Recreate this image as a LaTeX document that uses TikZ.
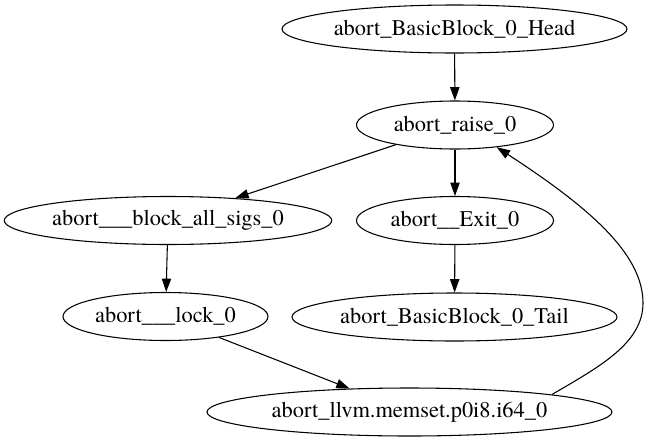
\documentclass[tikz,border=0pt]{standalone}
\usepackage{fontspec}
\setmainfont{texgyretermes}[Extension=.otf,UprightFont=*-regular,BoldFont=*-bold,ItalicFont=*-italic,BoldItalicFont=*-bolditalic]
\usetikzlibrary{shapes.geometric,arrows.meta}
\begin{document}
\begin{tikzpicture}[x=0.75pt,y=-0.75pt,
  gnode/.style={draw,ellipse,inner sep=0pt,minimum height=36pt,line width=0.8pt,
    font=\fontsize{16.8}{20}\selectfont},
  edge/.style={draw,line width=0.8pt,-{Triangle[length=10pt,width=7pt]}}]
\useasboundingbox (0,0) rectangle (649,443);
\node[gnode,minimum width=258.75pt] (head) at (454.5,29) {abort\_BasicBlock\_0\_Head};
\node[gnode,minimum width=147.75pt] (raise) at (455,125) {abort\_raise\_0};
\node[gnode,minimum width=244.5pt] (block) at (168,220.5) {abort\_\_\_block\_all\_sigs\_0};
\node[gnode,minimum width=147.75pt] (exit) at (455,220.5) {abort\_\_Exit\_0};
\node[gnode,minimum width=153.75pt] (lock) at (165.5,316.5) {abort\_\_\_lock\_0};
\node[gnode,minimum width=243.75pt] (tail) at (454.5,317) {abort\_BasicBlock\_0\_Tail};
\node[gnode,minimum width=303.75pt] (memset) at (409.5,412) {abort\_llvm.memset.p0i8.i64\_0};
\draw[edge] (head) -- (raise);
\draw[edge] (raise) -- (block);
\draw[edge] (raise) -- (exit);
\draw[edge] (exit) -- (tail);
\draw[edge] (block) -- (lock);
\draw[edge] (lock) -- (memset);
\draw[edge] (memset.7) .. controls (600,366.5) and (643,343) .. (643,303)
  .. controls (643,253) and (587,206) .. (raise.332);
\end{tikzpicture}
\end{document}
